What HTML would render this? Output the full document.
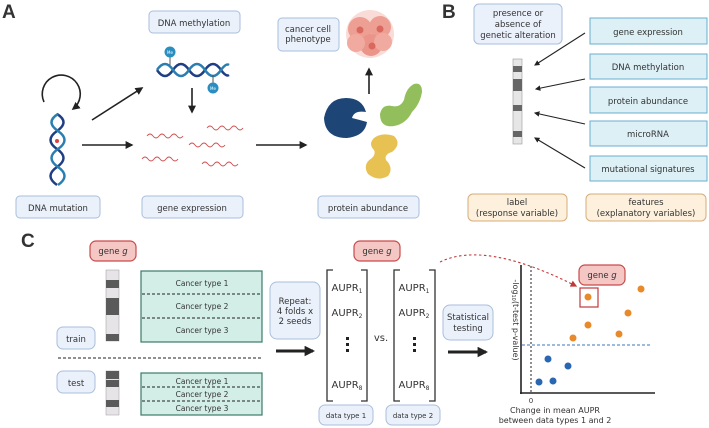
<!DOCTYPE html>
<html><head><meta charset="utf-8"><style>
html,body{margin:0;padding:0;background:#fff}
svg{display:block}
text{font-family:"DejaVu Sans","Liberation Sans",sans-serif;fill:#333}
</style></head><body>
<svg width="709" height="428" viewBox="0 0 709 428" xmlns="http://www.w3.org/2000/svg">
<defs>
<marker id="ah" viewBox="0 0 10 10" refX="8" refY="5" markerWidth="5" markerHeight="5" orient="auto"><path d="M0,0 L10,5 L0,10 z" fill="#222"/></marker>
<marker id="ahb" viewBox="0 0 10 10" refX="8" refY="5" markerWidth="3.5" markerHeight="3.5" orient="auto"><path d="M0,0 L10,5 L0,10 z" fill="#222"/></marker>
<marker id="ahr" viewBox="0 0 10 10" refX="8" refY="5" markerWidth="6" markerHeight="6" orient="auto"><path d="M0,0 L10,5 L0,10 z" fill="#c0393b"/></marker>
</defs>
<g font-weight="bold">
<text x="2" y="18" font-size="19" style="font-family:'Liberation Sans',sans-serif" fill="#111">A</text>
<text x="442" y="18" font-size="19" style="font-family:'Liberation Sans',sans-serif" fill="#111">B</text>
<text x="21" y="247" font-size="19" style="font-family:'Liberation Sans',sans-serif" fill="#111">C</text>
</g>
<g fill="#eaf1fb" stroke="#a9bedd" stroke-width="1">
<rect x="149" y="11" width="91" height="22" rx="4"/>
<rect x="278" y="18" width="61" height="33" rx="4"/>
<rect x="16" y="196" width="84" height="22" rx="4"/>
<rect x="142" y="196" width="101" height="22" rx="4"/>
<rect x="318" y="196" width="101" height="22" rx="4"/>
</g>
<g font-size="8.5" text-anchor="middle">
<text x="194" y="26">DNA methylation</text>
<text x="308" y="32">cancer cell</text>
<text x="308" y="42">phenotype</text>
<text x="58" y="211">DNA mutation</text>
<text x="192" y="211">gene expression</text>
<text x="368" y="211">protein abundance</text>
</g>
<g>
<circle cx="370" cy="34" r="24" fill="#f8d3cd" opacity="0.8"/>
<circle cx="360" cy="29" r="12" fill="#ee9f94"/>
<circle cx="380" cy="27" r="11" fill="#ee9f94"/>
<circle cx="371" cy="45" r="11" fill="#eb958a"/>
<circle cx="356" cy="43" r="9" fill="#f0aaa0"/>
<circle cx="383" cy="42" r="9" fill="#f0aaa0"/>
<circle cx="360" cy="30" r="3.5" fill="#d9685e"/>
<circle cx="380" cy="29" r="3.5" fill="#d9685e"/>
<circle cx="372" cy="46" r="3.5" fill="#d9685e"/>
</g>
<path d="M44,102 A19,19 0 1 1 73,109" fill="none" stroke="#222" stroke-width="1.6" marker-end="url(#ah)"/>
<path d="M53,114 Q66,122 53,131 Q40,140 53,149 Q66,158 53,167 Q40,176 53,185" fill="none" stroke="#1f3f84" stroke-width="2.5" transform="translate(4,0)"/>
<path d="M62,114 Q49,122 62,131 Q75,140 62,149 Q49,158 62,167 Q75,176 62,185" fill="none" stroke="#2a7fb0" stroke-width="2.5" transform="translate(-4,0)"/>
<circle cx="57" cy="141" r="2" fill="#e04040"/>
<g stroke="#222" stroke-width="1.6" fill="none" marker-end="url(#ah)">
<line x1="92" y1="120" x2="142" y2="88"/>
<line x1="82" y1="145" x2="132" y2="145"/>
<line x1="192" y1="88" x2="192" y2="112"/>
<line x1="256" y1="145" x2="306" y2="145"/>
<line x1="369" y1="94" x2="369" y2="69"/>
</g>
<path d="M157,65 Q165,77 173,65 Q181,53 189,65 Q197,77 205,65 Q213,53 221,65 Q226,72 229,70" fill="none" stroke="#1f3f84" stroke-width="2.5" transform="translate(0,5)"/>
<path d="M157,75 Q165,63 173,75 Q181,87 189,75 Q197,63 205,75 Q213,87 221,75 Q226,68 229,70" fill="none" stroke="#2a7fb0" stroke-width="2.5" transform="translate(0,-5)"/>
<line x1="170" y1="56" x2="170" y2="65" stroke="#555"/>
<line x1="213" y1="75" x2="213" y2="83" stroke="#555"/>
<circle cx="170" cy="52" r="5.5" fill="#2a8fc0"/>
<circle cx="213" cy="88" r="5.5" fill="#2a8fc0"/>
<text x="170" y="54" font-size="4" text-anchor="middle" style="fill:#fff">Me</text>
<text x="213" y="90" font-size="4" text-anchor="middle" style="fill:#fff">Me</text>
<g fill="none" stroke="#d05555" stroke-width="0.9">
<path d="M147,136 q3,-4 6,0 t6,0 t6,0 t6,0 t6,0 t6,0"/>
<path d="M207,128 q3,-4 6,0 t6,0 t6,0 t6,0 t6,0 t6,0"/>
<path d="M189,145 q3,-4 6,0 t6,0 t6,0 t6,0 t6,0 t6,0"/>
<path d="M142,159 q3,-4 6,0 t6,0 t6,0 t6,0 t6,0 t6,0"/>
<path d="M202,164 q3,-4 6,0 t6,0 t6,0 t6,0 t6,0 t6,0"/>
</g>
<path d="M324,118 q4,-20 22,-20 q16,0 20,14 q-12,-2 -14,6 q8,2 15,4 q-2,14 -20,16 q-22,0 -23,-20z" fill="#1d4576"/>
<path d="M380,114 q2,-10 12,-8 q8,2 12,-6 q2,-12 10,-16 q8,-2 8,8 q-2,12 -10,20 q-6,12 -18,14 q-14,2 -14,-12z" fill="#93be5c"/>
<path d="M374,138 q8,-6 20,-2 q8,8 -2,16 q-8,2 -6,8 q8,8 2,16 q-10,6 -20,-2 q-6,-10 4,-16 q4,-4 2,-8 q-6,-6 0,-12z" fill="#e8c153"/>
<!-- Panel B -->
<rect x="474" y="4" width="88" height="40" rx="5" fill="#eaf1fb" stroke="#a9bedd"/>
<g font-size="8.5" text-anchor="middle">
<text x="518" y="16">presence or</text>
<text x="518" y="27">absence of</text>
<text x="518" y="38">genetic alteration</text>
</g>
<rect x="513" y="59" width="9" height="85" fill="#e6e6e6" stroke="#999" stroke-width="0.6"/>
<g fill="#666"><rect x="513" y="66" width="9" height="6"/><rect x="513" y="79" width="9" height="12"/><rect x="513" y="105" width="9" height="6"/><rect x="513" y="131" width="9" height="6"/></g>
<g fill="#dcf0f6" stroke="#6aaed0" stroke-width="1">
<rect x="590" y="18" width="117" height="26"/>
<rect x="590" y="54" width="117" height="25"/>
<rect x="590" y="87" width="117" height="26"/>
<rect x="590" y="121" width="117" height="25"/>
<rect x="590" y="156" width="117" height="25"/>
</g>
<g font-size="8.5" text-anchor="middle">
<text x="648" y="35">gene expression</text>
<text x="648" y="70">DNA methylation</text>
<text x="648" y="104">protein abundance</text>
<text x="648" y="137">microRNA</text>
<text x="648" y="172">mutational signatures</text>
</g>
<g stroke="#222" stroke-width="1.1" marker-end="url(#ah)">
<line x1="585" y1="33" x2="535" y2="65"/>
<line x1="585" y1="79" x2="536" y2="89"/>
<line x1="585" y1="124" x2="535" y2="113"/>
<line x1="585" y1="168" x2="535" y2="138"/>
</g>
<g fill="#fdf0dd" stroke="#d6ad7b">
<rect x="468" y="194" width="99" height="27" rx="5"/>
<rect x="586" y="194" width="120" height="27" rx="5"/>
</g>
<g font-size="8.5" text-anchor="middle">
<text x="517" y="205">label</text>
<text x="517" y="216">(response variable)</text>
<text x="646" y="205">features</text>
<text x="646" y="216">(explanatory variables)</text>
</g>
<!-- Panel C -->
<g fill="#f4c7c4" stroke="#c94a4a" stroke-width="1.2">
<rect x="90" y="241" width="46" height="20" rx="6"/>
<rect x="354" y="241" width="46" height="20" rx="6"/>
<rect x="579" y="265" width="46" height="20" rx="6"/>
</g>
<g font-size="8.5" text-anchor="middle">
<text x="113" y="254">gene <tspan font-style="italic">g</tspan></text>
<text x="377" y="254">gene <tspan font-style="italic">g</tspan></text>
<text x="602" y="278">gene <tspan font-style="italic">g</tspan></text>
</g>
<rect x="106" y="270" width="13" height="71" fill="#e6e4e6" stroke="#aaa" stroke-width="0.6"/>
<g fill="#5a5a5a"><rect x="106" y="280" width="13" height="8"/><rect x="106" y="298" width="13" height="17"/><rect x="106" y="334" width="13" height="7"/></g>
<rect x="106" y="371" width="13" height="44" fill="#e6e4e6" stroke="#aaa" stroke-width="0.6"/>
<g fill="#5a5a5a"><rect x="106" y="371" width="13" height="8"/><rect x="106" y="380" width="13" height="7"/><rect x="106" y="400" width="13" height="7"/></g>
<rect x="141" y="271" width="121" height="71" fill="#d3eee7" stroke="#3c7a67" stroke-width="1.2"/>
<rect x="141" y="373" width="121" height="42" fill="#d3eee7" stroke="#3c7a67" stroke-width="1.2"/>
<g stroke="#222" stroke-dasharray="3,2" stroke-width="0.9">
<line x1="142" y1="294" x2="261" y2="294"/>
<line x1="142" y1="318" x2="261" y2="318"/>
<line x1="142" y1="387" x2="261" y2="387"/>
<line x1="142" y1="401" x2="261" y2="401"/>
<line x1="58" y1="358" x2="262" y2="358" stroke-width="1"/>
</g>
<g font-size="7.5" text-anchor="middle">
<text x="202" y="286">Cancer type 1</text>
<text x="202" y="309">Cancer type 2</text>
<text x="202" y="333">Cancer type 3</text>
<text x="202" y="384">Cancer type 1</text>
<text x="202" y="397">Cancer type 2</text>
<text x="202" y="411">Cancer type 3</text>
</g>
<g fill="#eaf1fb" stroke="#a9bedd">
<rect x="57" y="327" width="38" height="22" rx="6"/>
<rect x="57" y="371" width="38" height="22" rx="6"/>
<rect x="270" y="282" width="50" height="57" rx="7"/>
<rect x="319" y="405" width="54" height="20" rx="6"/>
<rect x="386" y="405" width="54" height="20" rx="6"/>
<rect x="443" y="305" width="50" height="35" rx="7"/>
</g>
<g font-size="8.5" text-anchor="middle">
<text x="76" y="342">train</text>
<text x="76" y="386">test</text>
<text x="295" y="304">Repeat:</text>
<text x="295" y="314">4 folds x</text>
<text x="295" y="324">2 seeds</text>
<text x="468" y="320">Statistical</text>
<text x="468" y="331">testing</text>
<text x="346" y="418" font-size="7">data type 1</text>
<text x="413" y="418" font-size="7">data type 2</text>
</g>
<g stroke="#222" stroke-width="3" marker-end="url(#ahb)">
<line x1="276" y1="351" x2="313" y2="351"/>
<line x1="448" y1="352" x2="486" y2="352"/>
</g>
<g fill="none" stroke="#333" stroke-width="1.3">
<path d="M333,270 h-6 v131 h6"/><path d="M361,270 h6 v131 h-6"/>
<path d="M400,270 h-6 v131 h6"/><path d="M429,270 h6 v131 h-6"/>
</g>
<g font-size="10" text-anchor="middle" fill="#222">
<text x="347" y="291">AUPR<tspan font-size="6" dy="2">1</tspan></text>
<text x="347" y="316">AUPR<tspan font-size="6" dy="2">2</tspan></text>
<text x="347" y="388">AUPR<tspan font-size="6" dy="2">8</tspan></text>
<text x="414" y="291">AUPR<tspan font-size="6" dy="2">1</tspan></text>
<text x="414" y="316">AUPR<tspan font-size="6" dy="2">2</tspan></text>
<text x="414" y="388">AUPR<tspan font-size="6" dy="2">8</tspan></text>
<text x="381" y="341">vs.</text>
</g>
<g fill="#222"><rect x="346" y="337" width="3" height="3"/><rect x="346" y="343" width="3" height="3"/><rect x="346" y="349" width="3" height="3"/>
<rect x="413" y="337" width="3" height="3"/><rect x="413" y="343" width="3" height="3"/><rect x="413" y="349" width="3" height="3"/></g>
<path d="M440,262 Q485,240 576,286" fill="none" stroke="#c0393b" stroke-width="1.1" stroke-dasharray="2.5,2.5" marker-end="url(#ahr)"/>
<line x1="521" y1="265" x2="521" y2="394" stroke="#222" stroke-width="1.6"/>
<line x1="520" y1="393" x2="655" y2="393" stroke="#222" stroke-width="1.6"/>
<line x1="531" y1="266" x2="531" y2="393" stroke="#222" stroke-width="1" stroke-dasharray="2,2"/>
<line x1="522" y1="345" x2="652" y2="345" stroke="#3b78b8" stroke-width="1" stroke-dasharray="3,2"/>
<rect x="580" y="288" width="18" height="19" fill="none" stroke="#c0393b" stroke-width="1.2"/>
<g fill="#e88a2a">
<circle cx="588" cy="297" r="3.5"/><circle cx="641" cy="289" r="3.5"/><circle cx="628" cy="313" r="3.5"/>
<circle cx="619" cy="334" r="3.5"/><circle cx="588" cy="325" r="3.5"/><circle cx="573" cy="338" r="3.5"/>
</g>
<g fill="#2a67b3">
<circle cx="548" cy="359" r="3.5"/><circle cx="568" cy="366" r="3.5"/><circle cx="539" cy="382" r="3.5"/><circle cx="553" cy="381" r="3.5"/>
</g>
<text x="0" y="0" font-size="8" text-anchor="middle" transform="translate(513,320) rotate(90)">-log<tspan font-size="5" dy="1">10</tspan><tspan dy="-1">(t-test p-value)</tspan></text>
<text x="531" y="403" font-size="7" text-anchor="middle">0</text>
<g font-size="8" text-anchor="middle">
<text x="555" y="413">Change in mean AUPR</text>
<text x="555" y="423">between data types 1 and 2</text>
</g>
</svg>
</body></html>
